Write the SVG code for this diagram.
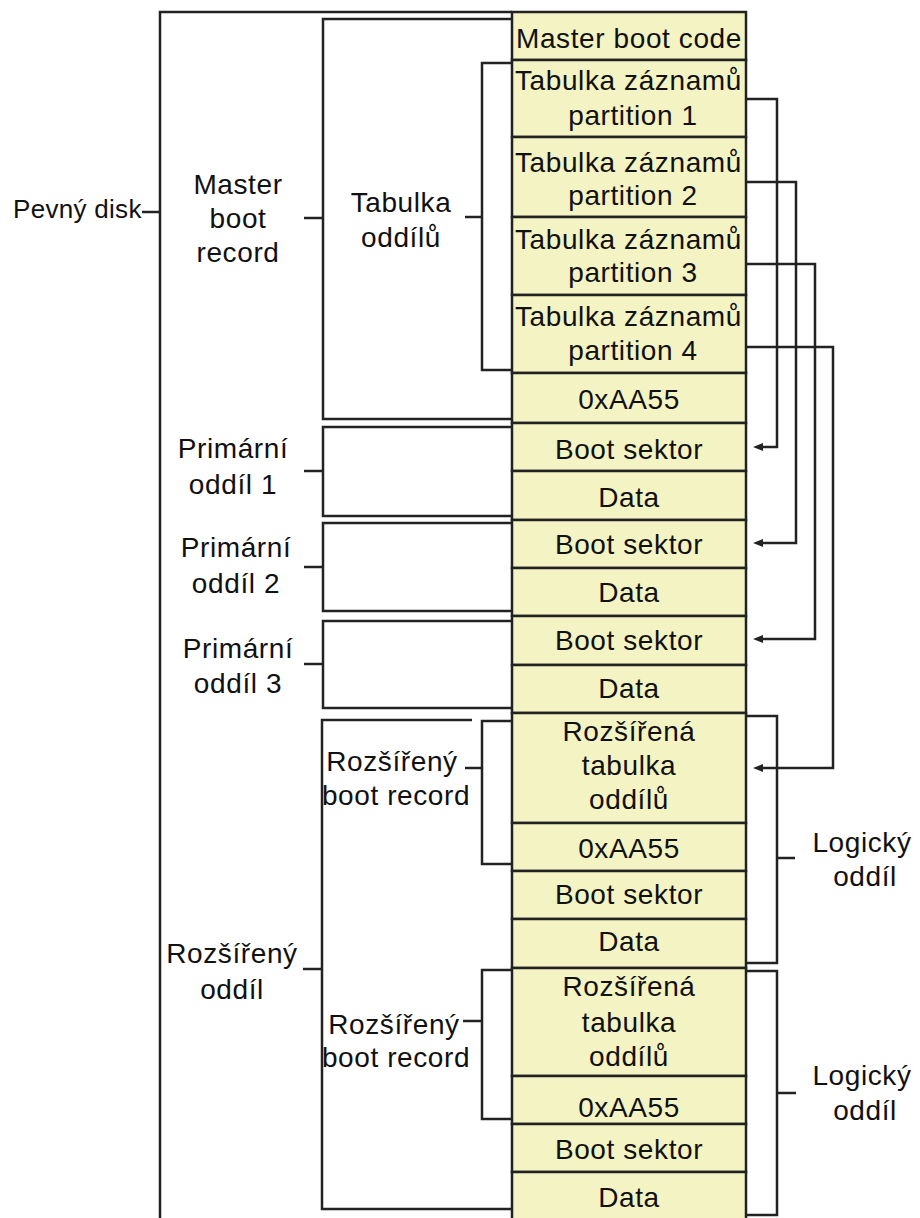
<svg xmlns="http://www.w3.org/2000/svg" width="920" height="1218" viewBox="0 0 920 1218">
<defs>
<style>
text{font-family:"Liberation Sans",Arial,sans-serif;font-size:28px;fill:#111;letter-spacing:0.6px;}
.c{text-anchor:middle;}
.l{text-anchor:start;}
.cell{fill:#F3F3C3;stroke:#222;stroke-width:2.5;}
.br{fill:none;stroke:#222;stroke-width:2.5;}
.ar{fill:none;stroke:#222;stroke-width:2.5;}
</style>
<marker id="ah" markerWidth="10" markerHeight="8" refX="1" refY="4" orient="auto" markerUnits="userSpaceOnUse">
<path d="M10,0 L0,4 L10,8 Z" fill="#222" transform="rotate(180 5 4)"/>
</marker>
<clipPath id="colclip"><rect x="512" y="0" width="234" height="1218"/></clipPath>
</defs>
<rect width="920" height="1218" fill="#fff"/>

<g id="connectors">
<path class="br" d="M512,12 H160 V1222"/>
<path class="br" d="M142,212 H160"/>
<path class="br" d="M512,19 H323 V419 H512"/>
<path class="br" d="M304,218 H323"/>
<path class="br" d="M512,63 H482 V370 H512"/>
<path class="br" d="M465,217 H482"/>
<path class="br" d="M512,427 H323 V516 H512"/>
<path class="br" d="M304,471 H323"/>
<path class="br" d="M512,523 H323 V611 H512"/>
<path class="br" d="M304,567 H323"/>
<path class="br" d="M512,621 H323 V708 H512"/>
<path class="br" d="M304,664 H323"/>
<path class="br" d="M472,720 H322 V1209 H512"/>
<path class="br" d="M303,969 H322"/>
<path class="br" d="M512,721 H482 V864 H512"/>
<path class="br" d="M465,768 H482"/>
<path class="br" d="M512,970 H482 V1119 H512"/>
<path class="br" d="M463,1021 H482"/>
<path class="br" d="M746,716 H777 V963 H746"/>
<path class="br" d="M777,858 H795"/>
<path class="br" d="M746,971 H777 V1215 H746"/>
<path class="br" d="M777,1093 H796"/>
<path class="ar" d="M746,99 H777 V447 H762" marker-end="url(#ah)"/>
<path class="ar" d="M746,182 H796 V543 H762" marker-end="url(#ah)"/>
<path class="ar" d="M746,264 H815 V639 H762" marker-end="url(#ah)"/>
<path class="ar" d="M746,347 H833 V768 H762" marker-end="url(#ah)"/>
</g>

<g id="label-pevny-disk"><text x="13" y="218" style="font-size:26px;letter-spacing:0.3px">Pevný disk</text></g>
<g id="label-mbr"><text class="c" x="238" y="194">Master</text><text class="c" x="238" y="228">boot</text><text class="c" x="238" y="262">record</text></g>
<g id="label-tabulka"><text class="c" x="401" y="212">Tabulka</text><text class="c" x="401" y="247">oddílů</text></g>
<g id="label-prim1"><text class="c" x="233" y="458">Primární</text><text class="c" x="233" y="494">oddíl 1</text></g>
<g id="label-prim2"><text class="c" x="236" y="557">Primární</text><text class="c" x="236" y="593">oddíl 2</text></g>
<g id="label-prim3"><text class="c" x="238" y="658">Primární</text><text class="c" x="238" y="693">oddíl 3</text></g>
<g id="label-ext"><text class="c" x="232" y="963">Rozšířený</text><text class="c" x="232" y="999">oddíl</text></g>
<g id="label-ebr1"><text class="c" x="392" y="771">Rozšířený</text><text class="c" x="396" y="805">boot record</text></g>
<g id="label-ebr2"><text class="c" x="394" y="1034">Rozšířený</text><text class="c" x="396" y="1067">boot record</text></g>
<g id="label-log1"><text class="c" x="862" y="852">Logický</text><text class="c" x="865" y="886">oddíl</text></g>
<g id="label-log2"><text class="c" x="862" y="1085">Logický</text><text class="c" x="865" y="1120">oddíl</text></g>

<g id="cell-mbc"><rect class="cell" x="512" y="12" width="234" height="48"/><text class="c" x="629" y="48">Master boot code</text></g>
<g id="cell-pt1"><rect class="cell" x="512" y="60" width="234" height="77"/><text class="l" x="515" y="90" clip-path="url(#colclip)">Tabulka záznamů</text><text class="c" x="633" y="125">partition 1</text></g>
<g id="cell-pt2"><rect class="cell" x="512" y="137" width="234" height="80"/><text class="l" x="515" y="172" clip-path="url(#colclip)">Tabulka záznamů</text><text class="c" x="633" y="205">partition 2</text></g>
<g id="cell-pt3"><rect class="cell" x="512" y="217" width="234" height="78"/><text class="l" x="515" y="249" clip-path="url(#colclip)">Tabulka záznamů</text><text class="c" x="633" y="282">partition 3</text></g>
<g id="cell-pt4"><rect class="cell" x="512" y="295" width="234" height="78"/><text class="l" x="515" y="326" clip-path="url(#colclip)">Tabulka záznamů</text><text class="c" x="633" y="360">partition 4</text></g>
<g id="cell-sig"><rect class="cell" x="512" y="373" width="234" height="50"/><text class="c" x="629" y="409">0xAA55</text></g>
<g id="cell-boot1"><rect class="cell" x="512" y="423" width="234" height="48"/><text class="c" x="629" y="459">Boot sektor</text></g>
<g id="cell-data1"><rect class="cell" x="512" y="471" width="234" height="49"/><text class="c" x="629" y="507">Data</text></g>
<g id="cell-boot2"><rect class="cell" x="512" y="520" width="234" height="48"/><text class="c" x="629" y="554">Boot sektor</text></g>
<g id="cell-data2"><rect class="cell" x="512" y="568" width="234" height="48"/><text class="c" x="629" y="602">Data</text></g>
<g id="cell-boot3"><rect class="cell" x="512" y="616" width="234" height="49"/><text class="c" x="629" y="650">Boot sektor</text></g>
<g id="cell-data3"><rect class="cell" x="512" y="665" width="234" height="48"/><text class="c" x="629" y="698">Data</text></g>
<g id="cell-ept1"><rect class="cell" x="512" y="713" width="234" height="110"/><text class="c" x="629" y="741">Rozšířená</text><text class="c" x="629" y="775">tabulka</text><text class="c" x="629" y="809">oddílů</text></g>
<g id="cell-sig1"><rect class="cell" x="512" y="823" width="234" height="48"/><text class="c" x="629" y="858">0xAA55</text></g>
<g id="cell-boot4"><rect class="cell" x="512" y="871" width="234" height="48"/><text class="c" x="629" y="904">Boot sektor</text></g>
<g id="cell-data4"><rect class="cell" x="512" y="919" width="234" height="49"/><text class="c" x="629" y="951">Data</text></g>
<g id="cell-ept2"><rect class="cell" x="512" y="968" width="234" height="108"/><text class="c" x="629" y="996">Rozšířená</text><text class="c" x="629" y="1032">tabulka</text><text class="c" x="629" y="1066">oddílů</text></g>
<g id="cell-sig2"><rect class="cell" x="512" y="1076" width="234" height="48"/><text class="c" x="629" y="1117">0xAA55</text></g>
<g id="cell-boot5"><rect class="cell" x="512" y="1124" width="234" height="48"/><text class="c" x="629" y="1159">Boot sektor</text></g>
<g id="cell-data5"><rect class="cell" x="512" y="1172" width="234" height="52"/><text class="c" x="629" y="1207">Data</text></g>
</svg>
